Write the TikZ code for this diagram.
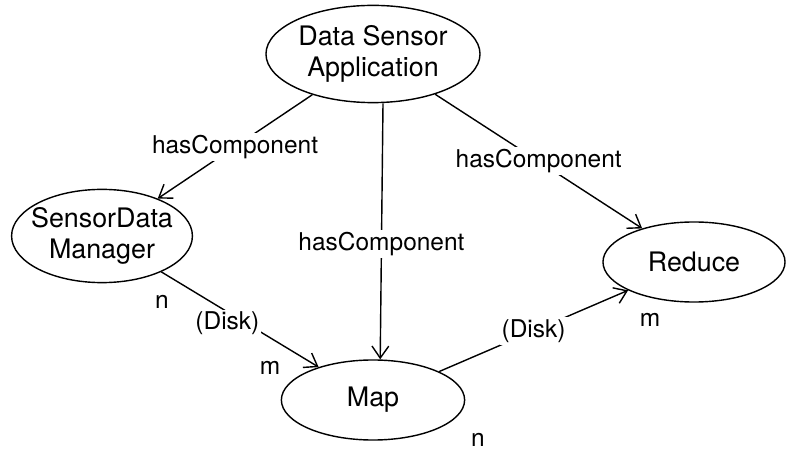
\documentclass[tikz,border=0pt]{standalone}
\usepackage{fontspec}
\setmainfont{TeX Gyre Heros}
\usetikzlibrary{arrows.meta, shapes.geometric}

\begin{document}
\begin{tikzpicture}[
  x=0.025cm, y=-0.025cm,
  >={Straight Barb[length=3mm, width=4.2mm]},
  comp/.style={
    ellipse, draw, line width=1pt, inner sep=0pt, inner xsep=-2cm,
    align=center, font=\fontsize{19.1}{22}\selectfont
  },
  arrow/.style    ={->, line width=1pt},
  edgelabel/.style={fill=white, inner sep=1.5pt, font=\fontsize{17.4}{20}\selectfont},
  mult/.style     ={inner sep=0pt, font=\fontsize{17.4}{20}\selectfont}
]
\useasboundingbox (0,0) rectangle (789,451);

% Components
\node[comp, minimum width=5.35cm, minimum height=2.43cm] (app)    at (373,54)  {Data Sensor\\Application};
\node[comp, minimum width=4.52cm, minimum height=2.33cm] (sdm)    at (102,236) {SensorData\\Manager};
\node[comp, minimum width=4.55cm, minimum height=2.0cm]  (reduce) at (694,262) {Reduce};
\node[comp, minimum width=4.58cm, minimum height=2.0cm]  (map)    at (373,400) {Map};

% hasComponent links
\draw[arrow] (app) -- (sdm) node[edgelabel, midway] (hc1) {hasComponent};
\draw[arrow] ([xshift=0.25cm]app.south) -- ([xshift=0.18cm]map.north)
  node[edgelabel, pos=0.55] (hc2) {hasComponent};
\draw[arrow] (app) -- (reduce) node[edgelabel, midway] (hc3) {hasComponent};

% Disk links
\draw[arrow] (sdm) -- (map) node[edgelabel, pos=0.42, yshift=-8pt] (disk1) {(Disk)};
\draw[arrow] (map) -- (reduce) node[edgelabel, midway] (disk2) {(Disk)};

% Cardinalities
\node[mult] (sdmN)    at (162,302) {n};
\node[mult] (mapM)    at (270,368) {m};
\node[mult] (mapN)    at (478,440) {n};
\node[mult] (reduceM) at (650,320) {m};

\end{tikzpicture}
\end{document}
